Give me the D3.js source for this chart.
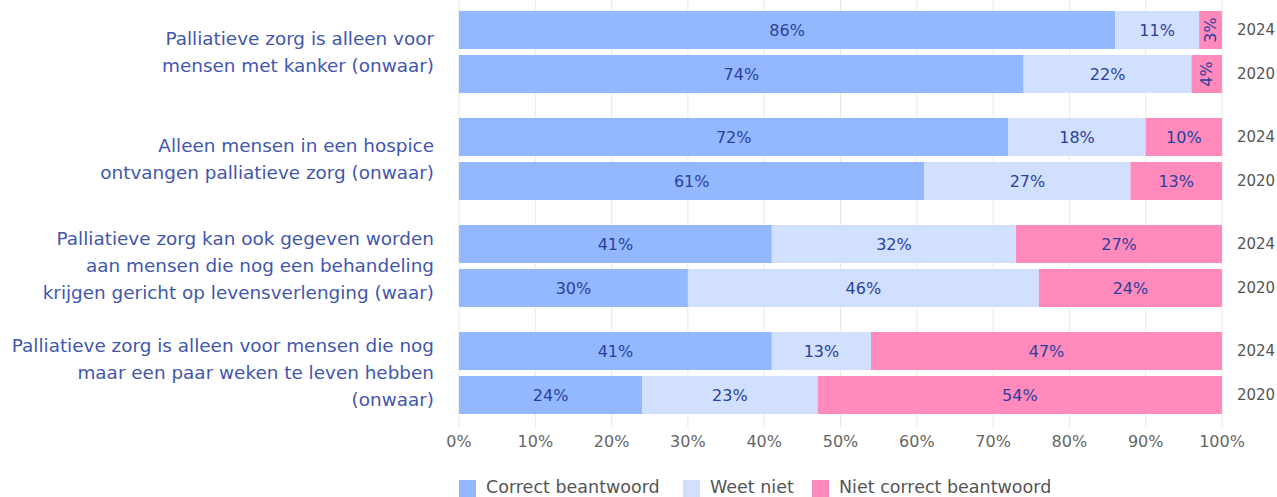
<!DOCTYPE html>
<html lang="nl">
<head>
<meta charset="UTF-8">
<title>Palliatieve zorg</title>
<script src="https://d3js.org/d3.v7.min.js"></script>
<style>
    body { margin: 0; background: #fff; }
    svg { display: block; font-family: "DejaVu Sans", sans-serif; }
</style>
</head>
<body>
<script>

// data
const statements = [
    ['Palliatieve zorg is alleen voor', 'mensen met kanker (onwaar)'],
    ['Alleen mensen in een hospice', 'ontvangen palliatieve zorg (onwaar)'],
    ['Palliatieve zorg kan ook gegeven worden', 'aan mensen die nog een behandeling', 'krijgen gericht op levensverlenging (waar)'],
    ['Palliatieve zorg is alleen voor mensen die nog', 'maar een paar weken te leven hebben', '(onwaar)']
];
const years = ['2024', '2020'];
const series = ['Correct beantwoord', 'Weet niet', 'Niet correct beantwoord'];
// per statement, per year: [correct, weet niet, niet correct]
const correct   = [[86, 74], [72, 61], [41, 30], [41, 24]];
const weetNiet  = [[11, 22], [18, 27], [32, 46], [13, 23]];
const nietCorr  = [[3, 4],   [10, 13], [27, 24], [47, 54]];
const xTicks = [0, 10, 20, 30, 40, 50, 60, 70, 80, 90, 100];

const colors = ['#94b8ff', '#d2e0ff', '#ff8abb'];

const W = 1277, H = 497;
const left = 459, right = 1222;

const svg = d3.select('body').append('svg').attr('width', W).attr('height', H);

const x = d3.scaleLinear().domain([0, 100]).range([left, right]).clamp(true);
const yGroup = d3.scaleBand().domain(d3.range(statements.length)).range([11, 414]).paddingInner(0.234);
const yYear = d3.scaleBand().domain(years).range([0, yGroup.bandwidth()]).paddingInner(0.136);

// grid
svg.append('g')
    .selectAll('line')
    .data(xTicks)
    .join('line')
    .attr('x1', d => x(d)).attr('x2', d => x(d))
    .attr('y1', 0).attr('y2', 428)
    .style('stroke', '#eee9df')
    .style('stroke-width', 1);

// rows
const rows = [];
statements.forEach((s, i) => {
    years.forEach((yr, j) => {
        const vals = [correct[i][j], weetNiet[i][j], nietCorr[i][j]];
        let acc = 0;
        vals.forEach((v, k) => {
            rows.push({ i, yr, k, v, x0: acc, x1: acc + v });
            acc += v;
        });
    });
});

const segs = svg.append('g')
    .selectAll('g')
    .data(rows)
    .join('g')
    .attr('transform', d => `translate(0,${yGroup(d.i) + yYear(d.yr)})`);

segs.append('rect')
    .attr('x', d => x(d.x0))
    .attr('width', d => x(d.x1) - x(d.x0))
    .attr('height', yYear.bandwidth())
    .style('fill', d => colors[d.k]);

segs.append('text')
    .attr('transform', d => {
        const cx = (x(d.x0) + x(d.x1)) / 2;
        const cy = yYear.bandwidth() / 2;
        return d.v < 5 ? `translate(${cx},${cy}) rotate(-90)` : `translate(${cx},${cy})`;
    })
    .attr('text-anchor', 'middle')
    .attr('dy', '0.35em')
    .style('font-size', '16px')
    .style('fill', '#2c3f9c')
    .text(d => d.v + '%');

// year labels
statements.forEach((s, i) => {
    svg.append('g')
        .selectAll('text')
        .data(years)
        .join('text')
        .attr('x', 1256)
        .attr('y', d => yGroup(i) + yYear(d) + yYear.bandwidth() / 2)
        .attr('dy', '0.35em')
        .attr('text-anchor', 'middle')
        .style('font-size', '15px')
        .style('fill', '#555')
        .text(d => d);
});

// category labels
const lineH = 27;
svg.append('g')
    .selectAll('text')
    .data(statements)
    .join('text')
    .attr('text-anchor', 'end')
    .style('font-size', '18.4px')
    .style('fill', '#4257ad')
    .each(function (d, i) {
        const cy = yGroup(i) + yGroup.bandwidth() / 2;
        const y0 = cy - (d.length - 1) * lineH / 2;
        d3.select(this).selectAll('tspan')
            .data(d)
            .join('tspan')
            .attr('x', 434)
            .attr('y', (t, k) => y0 + k * lineH)
            .attr('dy', '0.35em')
            .text(t => t);
    });

// x axis
svg.append('g')
    .selectAll('text')
    .data(xTicks)
    .join('text')
    .attr('x', d => x(d))
    .attr('y', 441)
    .attr('dy', '0.35em')
    .attr('text-anchor', 'middle')
    .style('font-size', '16px')
    .style('fill', '#666')
    .text(d => d + '%');

// legend
const legX = [459, 683, 812];
const leg = svg.append('g')
    .selectAll('g')
    .data(series)
    .join('g')
    .attr('transform', (d, i) => `translate(${legX[i]},480)`);
leg.append('rect')
    .attr('width', 17).attr('height', 17)
    .style('fill', (d, i) => colors[i]);
leg.append('text')
    .attr('x', 27).attr('y', 7)
    .attr('dy', '0.35em')
    .style('font-size', '17.5px')
    .style('fill', '#555')
    .text(d => d);

</script>
</body>
</html>
